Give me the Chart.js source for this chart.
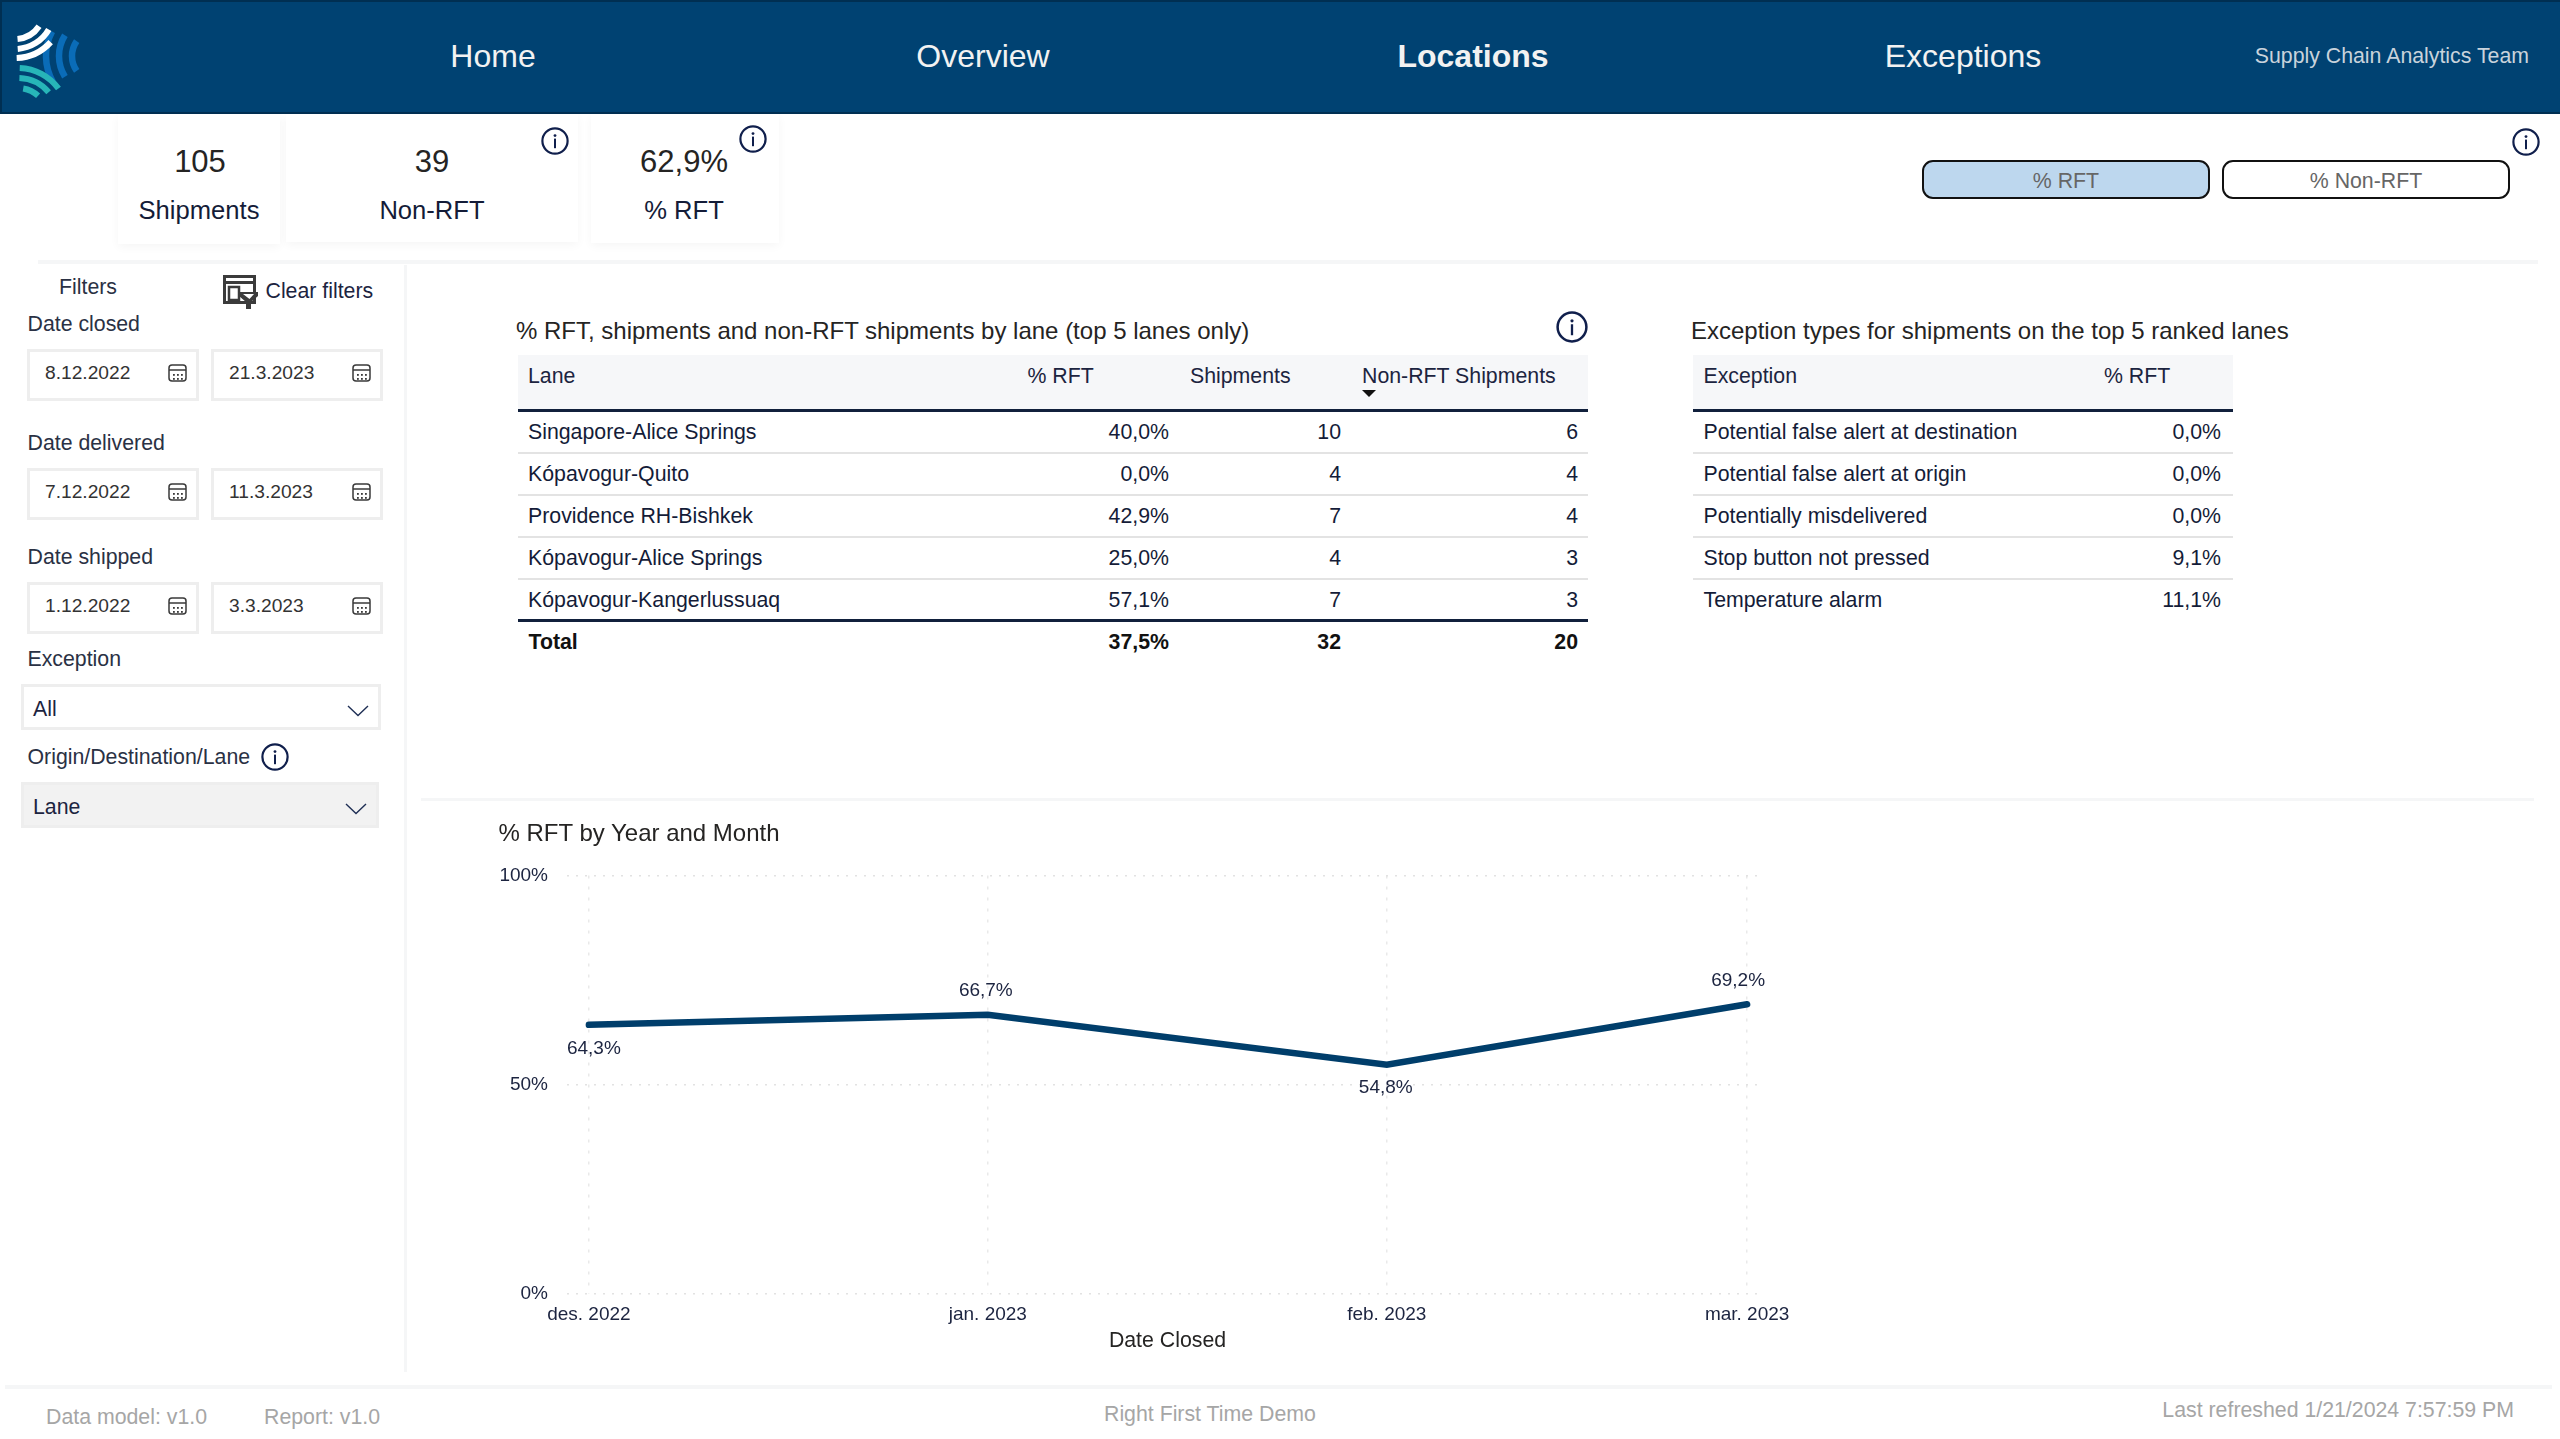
<!DOCTYPE html>
<html lang="en">
<head>
<meta charset="utf-8">
<title>Right First Time Demo</title>
<script src="https://cdn.jsdelivr.net/npm/chart.js@4/dist/chart.umd.min.js"></script>
<style>
html,body{margin:0;padding:0;width:2560px;height:1439px;overflow:hidden;background:#fff;font-family:"Liberation Sans",Arial,sans-serif}
#page{position:relative;width:2560px;height:1439px;overflow:hidden}
.t{position:absolute;white-space:nowrap;line-height:1.2}
.b{position:absolute;box-sizing:border-box}
svg{position:absolute;overflow:visible}
canvas{position:absolute}
</style>
</head>
<body>
<div id="page"><canvas id="trend" width="1330" height="515" style="left:470px;top:845px;width:1330px;height:515px"></canvas></div>
<script>
// ---------- chart data ----------
const monthLabels = ['des. 2022', 'jan. 2023', 'feb. 2023', 'mar. 2023'];
const monthDayOffsets = [0, 31, 62, 90];
const rftByMonth = [64.3, 66.7, 54.8, 69.2];
const yAxisTicks = [0, 50, 100];
const xAxisTitle = 'Date Closed';

// ---------- table data ----------
const laneHeaders = ['Lane', '% RFT', 'Shipments', 'Non-RFT Shipments'];
const laneNames = ['Singapore-Alice Springs', 'Kópavogur-Quito', 'Providence RH-Bishkek', 'Kópavogur-Alice Springs', 'Kópavogur-Kangerlussuaq'];
const laneRft = ['40,0%', '0,0%', '42,9%', '25,0%', '57,1%'];
const laneShipments = [10, 4, 7, 4, 7];
const laneNonRft = [6, 4, 4, 3, 3];
const laneTotal = ['Total', '37,5%', 32, 20];
const exceptionHeaders = ['Exception', '% RFT'];
const exceptionNames = ['Potential false alert at destination', 'Potential false alert at origin', 'Potentially misdelivered', 'Stop button not pressed', 'Temperature alarm'];
const exceptionRft = ['0,0%', '0,0%', '0,0%', '9,1%', '11,1%'];

// ---------- page text ----------
const navItems = ['Home', 'Overview', 'Locations', 'Exceptions'];
const kpiValues = ['105', '39', '62,9%'];
const kpiLabels = ['Shipments', 'Non-RFT', '% RFT'];
const dateFilters = [['Date closed', '8.12.2022', '21.3.2023'], ['Date delivered', '7.12.2022', '11.3.2023'], ['Date shipped', '1.12.2022', '3.3.2023']];

// ---------- drawing helpers ----------
const page = document.getElementById('page');
const DARK = '#252423', NAVY = '#141c38', RULE = '#11203c', SOFT = '#e3e3e3', HAIR = '#f5f6f7';
function t(text, x, y, size, color, align, weight) {
  const e = document.createElement('div');
  e.className = 't';
  e.textContent = text;
  e.style.fontSize = size + 'px';
  e.style.color = color || NAVY;
  e.style.top = y + 'px';
  if (weight) e.style.fontWeight = weight;
  if (align === 'r') { e.style.right = (2560 - x) + 'px'; e.style.transform = 'translateY(-50%)'; }
  else if (align === 'c') { e.style.left = x + 'px'; e.style.transform = 'translate(-50%,-50%)'; }
  else { e.style.left = x + 'px'; e.style.transform = 'translateY(-50%)'; }
  page.appendChild(e);
  return e;
}
function box(x, y, w, h, css) {
  const e = document.createElement('div');
  e.className = 'b';
  e.style.cssText = `left:${x}px;top:${y}px;width:${w}px;height:${h}px;` + (css || '');
  page.appendChild(e);
  return e;
}
function svg(x, y, w, h, inner) {
  const ns = 'http://www.w3.org/2000/svg';
  const e = document.createElementNS(ns, 'svg');
  e.setAttribute('width', w); e.setAttribute('height', h);
  e.setAttribute('viewBox', `0 0 ${w} ${h}`);
  e.style.left = x + 'px'; e.style.top = y + 'px';
  e.innerHTML = inner;
  page.appendChild(e);
}
function info(cx, cy, d) {
  const size = d || 28;
  svg(cx - size / 2, cy - size / 2, size, size,
    `<g transform="scale(${size / 28})"><circle cx="14" cy="14" r="12.6" fill="#fff" stroke="#101f4c" stroke-width="2.2"/>` +
    '<circle cx="14" cy="8.6" r="1.4" fill="#101f4c"/><rect x="13" y="11.6" width="2" height="9.6" fill="#101f4c"/></g>');
}
function calendar(x, y) {
  let dots = '';
  [[5, 10], [9, 10], [13, 10], [5, 14], [9, 14], [13, 14]].forEach(p => dots += `<rect x="${p[0]}" y="${p[1]}" width="1.8" height="1.8" fill="#3a3a3a"/>`);
  svg(x, y, 19, 18, '<rect x="1" y="1" width="17" height="16" rx="3" fill="none" stroke="#3a3a3a" stroke-width="1.5"/>' +
    '<line x1="1" y1="6" x2="18" y2="6" stroke="#3a3a3a" stroke-width="1.5"/>' + dots);
}
function chevron(cx, cy) {
  svg(cx - 11, cy - 6, 22, 12, '<polyline points="1,1 11,10.5 21,1" fill="none" stroke="#1f2f55" stroke-width="1.4"/>');
}
function arcPath(cx, cy, r, a0, a1) {
  const p = a => [cx + r * Math.cos(a * Math.PI / 180), cy + r * Math.sin(a * Math.PI / 180)];
  const s = p(a0), e = p(a1);
  return `<path d="M${s[0]} ${s[1]}A${r} ${r} 0 0 ${a1 > a0 ? 1 : 0} ${e[0]} ${e[1]}" fill="none"`;
}

// ---------- header ----------
box(0, 0, 2560, 114, 'background:#004272;border-top:2px solid #002f52;border-left:2px solid #002f52;border-bottom:2px solid #002f52');
(function logo() {
  let s = '';
  [52, 39, 26].forEach((r, i) => s += arcPath(98, 56, r, [150, 148, 145][i], [208, 212, 215][i]) + ' stroke="#0a6cb8" stroke-width="6.5"/>');
  [29, 39, 48].forEach((r, i) => s += arcPath(15, 10, r, [85, 86, 88][i], [34, 30, 42][i]) + ' stroke="#fff" stroke-width="6"/>');
  [50, 40, 30].forEach((r, i) => s += arcPath(18, 118, r, [-88, -88, -80][i], [-36, -40, -48][i]) + ' stroke="#27b5b8" stroke-width="6"/>');
  svg(0, 0, 100, 100, s);
})();
const navX = [493, 983, 1473, 1963];
navItems.forEach((n, i) => t(n, navX[i], 55.5, 32, '#f2f2f2', 'c', n === 'Locations' ? 'bold' : null));
t('Supply Chain Analytics Team', 2529, 57, 21.3, '#c9d3dc', 'r');

// ---------- KPI cards ----------
const cards = [[118, 162, 131, 199], [286, 292, 129, 432], [591, 188, 130, 684]];
cards.forEach((c, i) => {
  box(c[0], 114, c[1], c[2] - 1, 'background:#fff;box-shadow:0 3px 9px rgba(0,0,0,.04)');
  t(kpiValues[i], c[3] + (i === 0 ? 1 : 0), 161.5, 31, '#252423', 'c');
  t(kpiLabels[i], c[3], 209.5, 25.6, NAVY, 'c');
});
info(554.5, 141); info(753, 139); info(2526, 142);

// ---------- toggle buttons ----------
box(1922, 160, 288, 39, 'background:#bdd7ee;border:2.5px solid #111;border-radius:11px');
box(2222, 160, 288, 39, 'background:#fff;border:2.5px solid #111;border-radius:11px');
t('% RFT', 2066, 182, 21.3, '#666', 'c');
t('% Non-RFT', 2366, 182, 21.3, '#666', 'c');

// ---------- dividers ----------
box(38, 260, 2500, 4, 'background:' + HAIR);
box(404, 265, 3, 1107, 'background:' + HAIR);
box(421, 798, 2113, 3, 'background:' + HAIR);
box(5, 1385, 2547, 4, 'background:' + HAIR);

// ---------- filter panel ----------
t('Filters', 59, 288, 21.3, '#2a3144');
svg(223, 275, 35, 34,
  '<rect x="1.5" y="1.5" width="30" height="26" fill="#fff" stroke="#3b3b3b" stroke-width="3"/>' +
  '<rect x="3" y="6" width="27" height="3" fill="#3b3b3b"/><rect x="6" y="12" width="10" height="13" fill="none" stroke="#3b3b3b" stroke-width="2.5"/>' +
  '<path d="M16 17H35V21L28 27V34H23V27L16 21Z" fill="#3b3b3b"/><path d="M20 19H31L26.5 24Z" fill="#fff"/>');
t('Clear filters', 265.5, 292, 21.3, '#1c2440');
const labelY = [324.5, 443.5, 558], boxY = [349, 468, 582];
dateFilters.forEach((f, i) => {
  t(f[0], 27.5, labelY[i], 21.3, '#2a3144');
  [[27, 45, 168], [211, 229, 352]].forEach((p, j) => {
    box(p[0], boxY[i], 172, 52, 'background:#fff;border:3px solid #eee');
    t(f[j + 1], p[1], boxY[i] + 23.5, 19.2, '#333');
    calendar(p[2], boxY[i] + 15);
  });
});
t('Exception', 27.5, 660, 21.3, '#2a3144');
box(21, 684, 360, 46, 'background:#fff;border:3px solid #eee');
t('All', 33, 709.5, 21.3, '#1c2440');
chevron(358, 711);
t('Origin/Destination/Lane', 27.5, 758, 21.3, '#2a3144');
info(275, 757);
box(21, 782, 358, 46, 'background:#f2f2f2;border:3px solid #eee');
t('Lane', 33, 808, 21.3, '#1c2440');
chevron(356, 809);

// ---------- lane table ----------
const rowY = [432.5, 474.5, 516.5, 558.5, 600.5];
const softRuleY = [452, 494, 536, 578];
t('% RFT, shipments and non-RFT shipments by lane (top 5 lanes only)', 516, 330.5, 24, DARK);
info(1572, 326.5, 32);
box(518, 355, 1070, 54, 'background:#f6f7f9');
box(518, 409, 1070, 3, 'background:' + RULE);
t(laneHeaders[0], 528, 377, 21.3, '#1c2440');
t(laneHeaders[1], 1027.5, 377, 21.3, '#1c2440');
t(laneHeaders[2], 1190, 377, 21.3, '#1c2440');
t(laneHeaders[3], 1362, 377, 21.3, '#1c2440');
svg(1362, 390, 14, 7, '<path d="M0 0H14L7 7Z" fill="#111"/>');
laneNames.forEach((n, i) => {
  t(n, 528, rowY[i], 21.3, NAVY);
  t(laneRft[i], 1169, rowY[i], 21.3, NAVY, 'r');
  t(String(laneShipments[i]), 1341, rowY[i], 21.3, NAVY, 'r');
  t(String(laneNonRft[i]), 1578, rowY[i], 21.3, NAVY, 'r');
});
softRuleY.forEach(y => box(518, y, 1070, 2, 'background:' + SOFT));
box(518, 619, 1070, 3, 'background:' + RULE);
t(laneTotal[0], 528.5, 642.5, 21.3, '#111', null, 'bold');
t(laneTotal[1], 1169, 642.5, 21.3, '#111', 'r', 'bold');
t(String(laneTotal[2]), 1341, 642.5, 21.3, '#111', 'r', 'bold');
t(String(laneTotal[3]), 1578, 642.5, 21.3, '#111', 'r', 'bold');

// ---------- exception table ----------
t('Exception types for shipments on the top 5 ranked lanes', 1691, 330.5, 24, DARK);
box(1693, 355, 540, 54, 'background:#f6f7f9');
box(1693, 409, 540, 3, 'background:' + RULE);
t(exceptionHeaders[0], 1703.5, 377, 21.3, '#1c2440');
t(exceptionHeaders[1], 2104, 377, 21.3, '#1c2440');
exceptionNames.forEach((n, i) => {
  t(n, 1703.5, rowY[i], 21.3, NAVY);
  t(exceptionRft[i], 2221, rowY[i], 21.3, NAVY, 'r');
});
softRuleY.forEach(y => box(1693, y, 540, 2, 'background:' + SOFT));

// ---------- line chart ----------
t('% RFT by Year and Month', 498.5, 832.5, 24, DARK);
t(xAxisTitle, 1167.5, 1340.5, 21.3, '#252423', 'c');
const labelShift = [[5, 24], [-2, -24], [-1, 23], [-9, -24]];
const pointLabels = {
  id: 'pointLabels',
  afterDatasetsDraw(chart) {
    const ctx = chart.ctx;
    ctx.save();
    ctx.font = '19px "Liberation Sans", Arial, sans-serif';
    ctx.fillStyle = '#1c2440';
    ctx.textAlign = 'center';
    ctx.textBaseline = 'middle';
    chart.getDatasetMeta(0).data.forEach((pt, i) => {
      ctx.fillText(rftByMonth[i].toFixed(1).replace('.', ',') + '%', pt.x + labelShift[i][0], pt.y + labelShift[i][1]);
    });
    ctx.restore();
  }
};
new Chart(document.getElementById('trend'), {
  type: 'line',
  data: {
    datasets: [{
      data: monthDayOffsets.map((d, i) => ({ x: d, y: rftByMonth[i] })),
      borderColor: '#003e6b',
      borderWidth: 6.5,
      borderCapStyle: 'round',
      borderJoinStyle: 'miter',
      pointRadius: 0,
      tension: 0,
      fill: false
    }]
  },
  plugins: [pointLabels],
  options: {
    responsive: false,
    animation: false,
    devicePixelRatio: 1,
    layout: { autoPadding: false, padding: { top: 28, right: 40, left: 0, bottom: 0 } },
    plugins: { legend: { display: false }, tooltip: { enabled: false } },
    scales: {
      x: {
        type: 'linear',
        min: -1.7,
        max: 91,
        afterBuildTicks(scale) { scale.ticks = monthDayOffsets.map(v => ({ value: v })); },
        afterFit(scale) { scale.height = 66; },
        border: { display: false, dash: [3, 8] },
        grid: { color: '#e9e9e9', lineWidth: 1.5, drawTicks: false },
        ticks: {
          autoSkip: false, maxRotation: 0, minRotation: 0, padding: 9,
          color: '#1c2440',
          font: { family: '"Liberation Sans", Arial, sans-serif', size: 19 },
          callback(value) { return monthLabels[monthDayOffsets.indexOf(value)]; }
        }
      },
      y: {
        type: 'linear',
        min: 0,
        max: 100,
        afterBuildTicks(scale) { scale.ticks = yAxisTicks.map(v => ({ value: v })); },
        afterFit(scale) { scale.width = 97; },
        border: { display: false, dash: [2, 7] },
        grid: { color: '#e2e2e2', lineWidth: 1.5, drawTicks: false },
        ticks: {
          padding: 19,
          color: '#1c2440',
          font: { family: '"Liberation Sans", Arial, sans-serif', size: 19 },
          callback(value) { return value + '%'; }
        }
      }
    }
  }
});

// ---------- footer ----------
t('Data model: v1.0', 46, 1417.5, 21.3, '#a6a6a6');
t('Report: v1.0', 264, 1417.5, 21.3, '#a6a6a6');
t('Right First Time Demo', 1104, 1414.5, 21.3, '#a6a6a6');
t('Last refreshed 1/21/2024 7:57:59 PM', 2514, 1411, 21.3, '#a6a6a6', 'r');
</script>
</body>
</html>
